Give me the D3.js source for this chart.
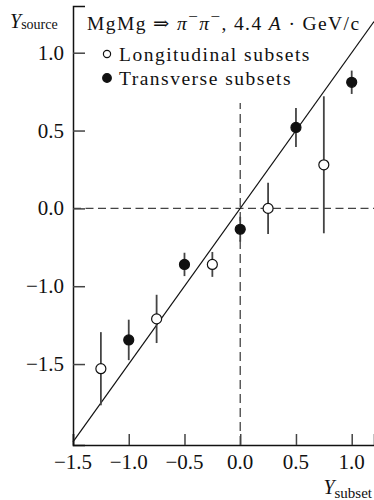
<!DOCTYPE html>
<html>
<head>
<meta charset="utf-8">
<script src="https://cdn.jsdelivr.net/npm/d3@7"></script>
<style>
  html, body { margin: 0; padding: 0; background: #fff; }
  svg { display: block; font-family: "Liberation Serif", "DejaVu Serif", serif; }
</style>
</head>
<body>
<div id="chart"></div>
<script>
// --- data ---
const longX = [-1.25, -0.75, -0.25, 0.25, 0.75];
const longY = [-1.03, -0.71, -0.36, 0.0, 0.28];
const longErr = [0.235, 0.155, 0.08, 0.165, 0.44];

const transX = [-1.0, -0.5, 0.0, 0.5, 1.0];
const transY = [-0.845, -0.36, -0.134, 0.52, 0.81];
const transErr = [0.13, 0.075, 0.08, 0.125, 0.075];

const xTickValues = [-1.5, -1.0, -0.5, 0.0, 0.5, 1.0];
const xTickLabels = ["\u22121.5", "\u22121.0", "\u22120.5", "0.0", "0.5", "1.0"];
// the printed figure labels its lower ticks this way
const yTickValues = [1.0, 0.5, 0.0, -0.5, -1.0];
const yTickLabels = ["1.0", "0.5", "0.0", "\u22121.0", "\u22121.5"];

const legendLabels = ["Longitudinal subsets", "Transverse subsets"];

const W = 374, H = 500;
const svg = d3.select("#chart").append("svg").attr("width", W).attr("height", H);

const x = d3.scaleLinear().domain([-1.5, 1.2]).range([73, 374]);
const y = d3.scaleLinear().domain([-1.52, 1.3]).range([445, 6]);

const ink = "#111";
const grey = "#444";

// reference lines at zero
svg.append("line")
    .attr("x1", x(-1.5)).attr("x2", W)
    .attr("y1", y(0)).attr("y2", y(0))
    .attr("stroke", grey).attr("stroke-width", 1.3).attr("stroke-dasharray", "8,4.5");
svg.append("line")
    .attr("x1", x(0)).attr("x2", x(0))
    .attr("y1", y(-1.52)).attr("y2", 103)
    .attr("stroke", grey).attr("stroke-width", 1.3).attr("stroke-dasharray", "9,5");

// y = x line
const diag = [-1.5, 1.2];
svg.append("line")
    .attr("x1", x(diag[0])).attr("y1", y(diag[0]))
    .attr("x2", x(diag[1])).attr("y2", y(diag[1]))
    .attr("stroke", ink).attr("stroke-width", 1.2);

// axes
const xAxis = d3.axisTop(x).tickValues(xTickValues).tickSize(11).tickFormat("");
const gx = svg.append("g").attr("transform", `translate(0,${y(-1.52)})`).call(xAxis);
const yAxis = d3.axisRight(y).tickValues(yTickValues).tickSize(12).tickFormat("");
const gy = svg.append("g").attr("transform", `translate(${x(-1.5)},0)`).call(yAxis);
[gx, gy].forEach(g => {
    g.select(".domain").attr("stroke", ink).attr("stroke-width", 1.5);
    g.selectAll(".tick line").attr("stroke", grey).attr("stroke-width", 1.5);
});

// tick labels
svg.append("g").selectAll("text").data(xTickValues).join("text")
    .attr("x", d => x(d)).attr("y", 469)
    .attr("text-anchor", "middle").attr("font-size", 21).attr("fill", ink)
    .text((d, i) => xTickLabels[i]);
svg.append("g").selectAll("text").data(yTickValues).join("text")
    .attr("x", 64).attr("y", d => y(d) + 7)
    .attr("text-anchor", "end").attr("font-size", 21).attr("fill", ink)
    .text((d, i) => yTickLabels[i]);

// axis titles
const ySrc = svg.append("text").attr("x", 10).attr("y", 28).attr("fill", ink);
ySrc.append("tspan").attr("font-style", "italic").attr("font-size", 20).text("Y");
ySrc.append("tspan").attr("font-size", 14).attr("dy", 1).text("source");

const ySub = svg.append("text").attr("x", 372).attr("y", 494).attr("text-anchor", "end").attr("fill", ink);
ySub.append("tspan").attr("font-style", "italic").attr("font-size", 20).text("Y");
ySub.append("tspan").attr("font-size", 15).attr("dy", 4).text("subset");

// title
const title = svg.append("text").attr("x", 87).attr("y", 30)
    .attr("font-size", 19.5).attr("letter-spacing", 1.4).attr("fill", ink);
title.append("tspan").text("MgMg \u21D2 ");
title.append("tspan").attr("font-style", "italic").text("\u03C0");
title.append("tspan").attr("font-size", 17).attr("dy", -8).text("\u2212");
title.append("tspan").attr("font-style", "italic").attr("dy", 8).text("\u03C0");
title.append("tspan").attr("font-size", 17).attr("dy", -8).text("\u2212");
title.append("tspan").attr("dy", 8).text(", 4.4 ");
title.append("tspan").attr("font-style", "italic").text("A");
title.append("tspan").text(" \u00B7 GeV/c");

// legend
const legend = svg.append("g");
legendLabels.forEach((lab, i) => {
    const ly = 54 + i * 24;
    legend.append("circle").attr("cx", 107).attr("cy", ly).attr("r", i === 0 ? 3.6 : 4.3)
        .attr("fill", i === 0 ? "#fff" : ink).attr("stroke", ink).attr("stroke-width", 1.2);
    legend.append("text").attr("x", 119).attr("y", ly + 7)
        .attr("font-size", 19.5).attr("letter-spacing", 1.5).attr("fill", ink).text(lab);
});

// data with error bars
function drawSeries(xs, ys, errs, filled) {
    const pts = xs.map((v, i) => ({ x: v, y: ys[i], e: errs[i] }));
    const g = svg.append("g");
    g.selectAll("line").data(pts).join("line")
        .attr("x1", d => x(d.x)).attr("x2", d => x(d.x))
        .attr("y1", d => y(d.y - d.e)).attr("y2", d => y(d.y + d.e))
        .attr("stroke", grey).attr("stroke-width", 1.8);
    g.selectAll("circle").data(pts).join("circle")
        .attr("cx", d => x(d.x)).attr("cy", d => y(d.y)).attr("r", 5)
        .attr("fill", filled ? ink : "#fff").attr("stroke", ink).attr("stroke-width", 1.2);
}
drawSeries(longX, longY, longErr, false);
drawSeries(transX, transY, transErr, true);
</script>
</body>
</html>
